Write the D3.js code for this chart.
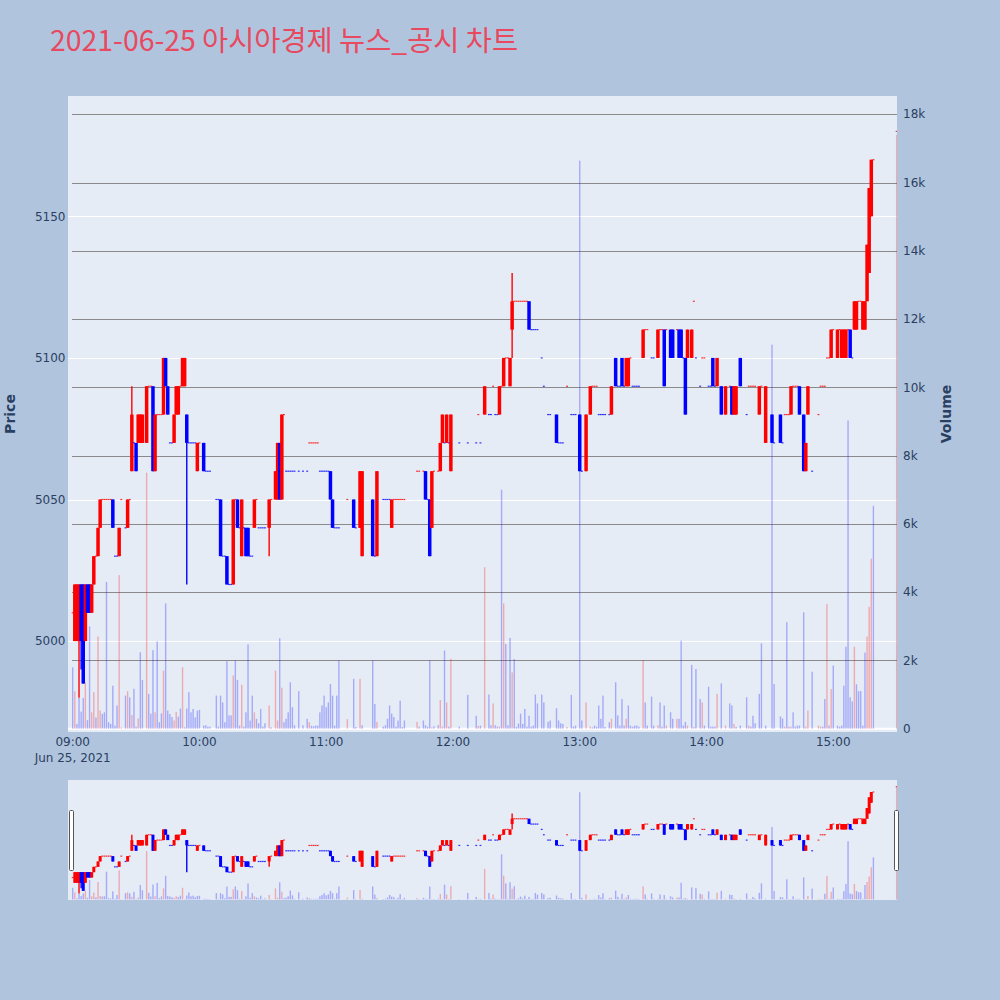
<!DOCTYPE html>
<html><head><meta charset="utf-8">
<script src="https://cdn.jsdelivr.net/npm/d3@7"></script>
<style>
html,body{margin:0;padding:0;background:#b0c4de;}
svg{display:block;}
</style></head><body>
<svg id="chart" width="1000" height="1000"></svg>
<script>
// ---- data (1-minute candles, 2021-06-25) ----
const times = [
"09:00","09:01","09:02","09:03","09:04","09:05","09:06","09:07","09:08","09:09",
"09:10","09:11","09:12","09:13","09:14","09:15","09:16","09:17","09:18","09:19",
"09:20","09:21","09:22","09:23","09:25","09:26","09:27","09:28","09:29","09:30",
"09:31","09:32","09:33","09:35","09:36","09:37","09:38","09:39","09:40","09:41",
"09:42","09:43","09:44","09:45","09:46","09:47","09:48","09:49","09:50","09:51",
"09:52","09:53","09:54","09:55","09:56","09:57","09:58","09:59","10:00","10:02",
"10:03","10:04","10:05","10:08","10:09","10:10","10:11","10:12","10:13","10:14",
"10:15","10:16","10:17","10:18","10:19","10:20","10:21","10:22","10:23","10:24",
"10:25","10:26","10:27","10:28","10:29","10:30","10:31","10:33","10:34","10:36",
"10:37","10:38","10:39","10:40","10:41","10:42","10:43","10:44","10:45","10:47",
"10:49","10:51","10:52","10:53","10:54","10:55","10:56","10:57","10:58","10:59",
"11:00","11:01","11:02","11:03","11:04","11:05","11:06","11:10","11:13","11:14",
"11:16","11:17","11:22","11:23","11:24","11:27","11:28","11:29","11:30","11:31",
"11:32","11:33","11:34","11:35","11:36","11:37","11:43","11:44","11:46","11:47",
"11:48","11:49","11:50","11:51","11:53","11:54","11:55","11:56","11:57","11:58",
"11:59","12:03","12:07","12:11","12:12","12:13","12:15","12:17","12:18","12:19",
"12:20","12:21","12:22","12:23","12:24","12:25","12:26","12:27","12:28","12:29",
"12:30","12:31","12:32","12:33","12:34","12:35","12:36","12:37","12:38","12:39",
"12:40","12:42","12:43","12:45","12:46","12:49","12:50","12:51","12:52","12:54",
"12:56","12:57","12:58","13:00","13:01","13:03","13:05","13:06","13:07","13:08",
"13:09","13:10","13:11","13:12","13:14","13:15","13:17","13:18","13:19","13:20",
"13:21","13:22","13:23","13:24","13:25","13:26","13:27","13:28","13:30","13:31",
"13:32","13:34","13:35","13:37","13:38","13:39","13:40","13:41","13:43","13:44",
"13:46","13:47","13:48","13:49","13:50","13:51","13:53","13:54","13:55","13:57",
"13:58","13:59","14:01","14:02","14:03","14:04","14:05","14:07","14:09","14:11",
"14:12","14:13","14:14","14:16","14:19","14:20","14:21","14:22","14:23","14:25",
"14:26","14:28","14:31","14:32","14:35","14:36","14:37","14:38","14:39","14:40",
"14:41","14:42","14:43","14:44","14:46","14:47","14:48","14:50","14:53","14:54",
"14:55","14:56","14:57","14:58","14:59","15:00","15:02","15:03","15:04","15:05",
"15:06","15:07","15:08","15:09","15:10","15:11","15:12","15:13","15:14","15:15",
"15:16","15:17","15:18","15:19","15:30"];

const opens = [
5010,5000,5000,5000,5020,5020,5000,5020,5020,5010,
5020,5030,5030,5040,5050,5050,5050,5050,5050,5050,
5030,5030,5030,5050,5040,5040,5050,5060,5070,5070,
5070,5070,5070,5070,5090,5090,5090,5060,5080,5080,
5080,5080,5100,5090,5070,5070,5070,5080,5080,5090,
5090,5090,5080,5070,5070,5070,5070,5060,5070,5070,
5060,5060,5060,5050,5050,5050,5030,5030,5030,5020,
5020,5020,5050,5050,5040,5030,5040,5040,5040,5030,
5030,5040,5050,5040,5040,5040,5040,5040,5050,5050,
5050,5070,5050,5080,5060,5060,5060,5060,5060,5060,
5060,5060,5070,5070,5070,5070,5070,5060,5060,5060,
5060,5060,5060,5050,5040,5040,5040,5050,5050,5040,
5040,5030,5050,5030,5030,5050,5050,5050,5050,5040,
5050,5050,5050,5050,5050,5050,5060,5060,5060,5060,
5050,5050,5040,5060,5060,5060,5070,5070,5070,5070,
5060,5070,5070,5070,5080,5070,5080,5080,5080,5090,
5080,5080,5080,5090,5090,5100,5100,5090,5110,5120,
5120,5120,5120,5120,5120,5120,5120,5110,5110,5110,
5110,5100,5090,5080,5080,5080,5070,5070,5070,5090,
5080,5080,5080,5080,5060,5060,5080,5090,5090,5090,
5080,5080,5080,5080,5080,5080,5100,5090,5090,5100,
5090,5090,5090,5100,5090,5090,5090,5090,5100,5110,
5110,5100,5100,5100,5110,5110,5110,5110,5110,5110,
5110,5110,5110,5100,5100,5100,5100,5120,5100,5090,
5100,5100,5090,5090,5100,5090,5090,5090,5080,5090,
5090,5080,5080,5100,5080,5090,5090,5090,5090,5080,
5090,5070,5080,5070,5080,5070,5080,5080,5080,5080,
5090,5090,5090,5090,5080,5060,5080,5060,5080,5090,
5090,5090,5100,5100,5100,5110,5100,5110,5100,5100,
5100,5110,5110,5100,5110,5110,5120,5120,5110,5110,
5120,5130,5150,5170,5180];

const highs = [
5010,5020,5020,5020,5020,5020,5020,5020,5020,5020,
5030,5030,5040,5050,5050,5050,5050,5050,5050,5050,
5030,5030,5040,5050,5040,5050,5050,5090,5070,5070,
5080,5080,5080,5090,5090,5090,5090,5080,5080,5080,
5080,5100,5100,5090,5070,5070,5080,5090,5090,5090,
5100,5100,5080,5070,5070,5070,5070,5070,5070,5070,
5060,5060,5060,5050,5050,5050,5030,5030,5030,5020,
5020,5050,5050,5050,5040,5050,5040,5040,5040,5030,
5030,5050,5050,5040,5040,5040,5040,5050,5050,5060,
5070,5070,5080,5080,5060,5060,5060,5060,5060,5060,
5060,5060,5070,5070,5070,5070,5070,5060,5060,5060,
5060,5060,5060,5050,5040,5040,5040,5050,5050,5040,
5060,5060,5050,5030,5060,5050,5050,5050,5050,5050,
5050,5050,5050,5050,5050,5050,5060,5060,5060,5060,
5050,5050,5060,5060,5060,5070,5080,5070,5080,5070,
5080,5070,5070,5070,5080,5070,5090,5080,5080,5090,
5080,5080,5090,5090,5100,5100,5100,5100,5130,5120,
5120,5120,5120,5120,5120,5120,5120,5110,5110,5110,
5110,5100,5090,5080,5080,5080,5070,5070,5070,5090,
5080,5080,5080,5080,5060,5080,5090,5090,5090,5090,
5080,5080,5080,5080,5080,5090,5100,5090,5090,5100,
5090,5100,5100,5100,5090,5090,5090,5090,5110,5110,
5110,5100,5100,5110,5110,5110,5110,5110,5110,5110,
5110,5110,5110,5100,5100,5110,5110,5120,5100,5090,
5100,5100,5090,5090,5100,5090,5100,5090,5090,5090,
5090,5090,5090,5100,5080,5090,5090,5090,5090,5090,
5090,5090,5080,5070,5080,5070,5080,5080,5080,5090,
5090,5090,5090,5090,5080,5070,5090,5060,5080,5090,
5090,5090,5100,5100,5110,5110,5110,5110,5110,5110,
5110,5110,5110,5100,5120,5120,5120,5120,5120,5120,
5140,5160,5170,5170,5180];

const lows = [
5010,5000,5000,4980,4990,4985,5000,5010,5010,5010,
5020,5030,5030,5040,5050,5050,5050,5050,5050,5040,
5030,5030,5030,5050,5040,5040,5050,5060,5070,5060,
5070,5070,5070,5070,5090,5090,5060,5060,5080,5080,
5080,5080,5090,5080,5070,5070,5070,5080,5080,5090,
5090,5090,5020,5070,5070,5070,5070,5060,5070,5060,
5060,5060,5060,5050,5050,5030,5030,5030,5020,5020,
5020,5020,5050,5040,5040,5030,5040,5030,5030,5030,
5030,5040,5050,5040,5040,5040,5040,5030,5050,5050,
5050,5050,5050,5080,5060,5060,5060,5060,5060,5060,
5060,5060,5070,5070,5070,5070,5070,5060,5060,5060,
5060,5060,5050,5040,5040,5040,5040,5050,5040,5040,
5040,5030,5030,5030,5030,5050,5050,5050,5050,5040,
5050,5050,5050,5050,5050,5050,5060,5060,5060,5050,
5050,5030,5040,5060,5060,5060,5070,5070,5070,5070,
5060,5070,5070,5070,5080,5070,5080,5080,5080,5090,
5080,5080,5080,5090,5090,5100,5100,5090,5100,5120,
5120,5120,5120,5120,5120,5120,5110,5110,5110,5110,
5110,5100,5090,5080,5080,5070,5070,5070,5070,5090,
5080,5080,5080,5060,5060,5060,5080,5090,5090,5090,
5080,5080,5080,5080,5080,5080,5090,5090,5090,5090,
5090,5090,5090,5100,5090,5090,5090,5090,5100,5110,
5110,5100,5100,5100,5110,5110,5090,5110,5100,5100,
5110,5100,5100,5100,5080,5100,5100,5120,5100,5090,
5100,5100,5090,5090,5090,5090,5090,5080,5080,5090,
5080,5080,5080,5090,5080,5090,5090,5090,5090,5080,
5090,5070,5070,5070,5070,5070,5080,5080,5080,5080,
5090,5090,5090,5080,5060,5060,5080,5060,5080,5090,
5090,5090,5100,5100,5100,5110,5100,5110,5100,5100,
5100,5110,5100,5100,5110,5110,5120,5120,5110,5110,
5120,5130,5150,5170,5180];

const closes = [
5010,5020,5020,5020,5000,4985,5020,5010,5010,5020,
5030,5030,5040,5050,5050,5050,5050,5050,5050,5040,
5030,5030,5040,5050,5040,5050,5050,5080,5070,5060,
5080,5080,5080,5090,5090,5090,5060,5080,5080,5080,
5080,5100,5090,5080,5070,5070,5080,5090,5090,5090,
5100,5100,5070,5070,5070,5070,5070,5070,5070,5060,
5060,5060,5060,5050,5050,5030,5030,5030,5020,5020,
5020,5050,5050,5040,5040,5050,5040,5030,5030,5030,
5030,5050,5050,5040,5040,5040,5040,5050,5050,5060,
5070,5050,5080,5080,5060,5060,5060,5060,5060,5060,
5060,5060,5070,5070,5070,5070,5070,5060,5060,5060,
5060,5060,5050,5040,5040,5040,5040,5050,5040,5040,
5060,5060,5030,5030,5060,5050,5050,5050,5050,5050,
5050,5050,5050,5050,5050,5050,5060,5060,5060,5050,
5050,5030,5060,5060,5060,5070,5080,5070,5080,5070,
5080,5070,5070,5070,5080,5070,5090,5080,5080,5090,
5080,5080,5090,5090,5100,5100,5100,5100,5120,5120,
5120,5120,5120,5120,5120,5120,5110,5110,5110,5110,
5110,5100,5090,5080,5080,5070,5070,5070,5070,5090,
5080,5080,5080,5060,5060,5080,5090,5090,5090,5090,
5080,5080,5080,5080,5080,5090,5090,5090,5090,5090,
5090,5100,5100,5100,5090,5090,5090,5090,5110,5110,
5110,5100,5100,5110,5110,5110,5090,5110,5100,5100,
5110,5100,5100,5100,5080,5110,5110,5120,5100,5090,
5100,5100,5090,5090,5090,5090,5100,5080,5090,5090,
5080,5090,5090,5090,5080,5090,5090,5090,5090,5090,
5090,5090,5070,5070,5070,5070,5080,5080,5080,5090,
5090,5090,5090,5080,5060,5070,5090,5060,5080,5090,
5090,5090,5100,5100,5110,5110,5110,5110,5110,5110,
5110,5110,5100,5100,5120,5120,5120,5120,5120,5120,
5140,5160,5170,5170,5180];

const volumes = [
1800,1100,140,900,500,900,1360,250,3000,480,
1070,330,2700,530,430,480,4300,190,140,1260,
90,680,4500,40,970,1100,920,400,1170,60,
300,2240,1430,7500,1020,440,2300,480,2560,190,
450,1700,3670,530,430,340,240,490,350,590,
1800,40,590,1070,480,580,330,530,550,90,
100,60,60,970,60,970,770,190,1980,390,
390,1560,2000,1430,90,1290,60,480,2470,240,
970,480,290,160,580,60,160,680,40,1700,
240,2650,1200,190,290,480,1360,630,100,1100,
100,290,190,90,70,90,90,480,680,970,
630,770,1310,970,90,970,2000,280,1460,50,
1460,100,2000,725,200,60,100,290,680,440,
340,60,240,820,50,240,200,60,240,100,
60,2000,40,70,100,840,60,2290,770,60,
2050,60,990,380,80,90,4730,1000,100,740,
100,60,60,7000,3670,2480,100,2660,1650,2040,
50,150,440,140,580,60,380,60,90,1000,
740,1000,770,200,240,600,240,160,140,50,
990,60,90,16640,240,770,60,40,90,60,
680,290,970,50,190,290,1360,390,90,870,
90,290,680,90,60,90,90,60,2010,770,
90,940,90,100,770,60,680,90,480,290,
290,290,2580,90,200,90,1870,50,1750,870,
770,90,1230,60,60,60,1020,1330,90,740,
680,140,50,90,920,90,60,380,160,1020,
2500,90,11250,1310,360,300,60,3120,60,60,
480,60,90,90,3410,60,530,1670,90,60,
60,870,3650,90,1160,1850,90,60,90,1260,
2400,9030,920,800,2400,1300,1100,1100,90,2230,
2700,3570,4980,6530,17400];

const priceTicks = [5000, 5050, 5100, 5150];
const volumeTicks = [0, 2000, 4000, 6000, 8000, 10000, 12000, 14000, 16000, 18000];
const volumeTickLabels = ["0","2k","4k","6k","8k","10k","12k","14k","16k","18k"];
const hourTicks = ["09:00","10:00","11:00","12:00","13:00","14:00","15:00"];
const titleText = "2021-06-25 아시아경제 뉴스_공시 차트";
const dateLabel = "Jun 25, 2021";

// ---- build records ----
const toDate = t => { const [h, m] = t.split(":").map(Number); return new Date(2021, 5, 25, h, m); };
const rows = times.map((t, i) => ({ t: toDate(t), o: opens[i], h: highs[i], l: lows[i], c: closes[i], v: volumes[i] }));
let prevDir = true, prevC = null;
rows.forEach(d => {
  let up;
  if (d.c > d.o) up = true; else if (d.c < d.o) up = false;
  else if (prevC === null) up = true;
  else if (d.c > prevC) up = true; else if (d.c < prevC) up = false; else up = prevDir;
  d.up = up;
  d.flat = d.o === d.c;
  d.vup = prevC !== null && d.c > prevC;
  prevDir = up; prevC = d.c;
});

const RED = "#ff0000", BLUE = "#0000ff";
const svg = d3.select("#chart");
const P = { l: 68, r: 897, t: 96, b: 732 };
const S = { t: 780, b: 900 };

const x = d3.scaleTime()
  .domain([new Date(2021, 5, 25, 8, 57, 47), new Date(2021, 5, 25, 15, 30, 10)])
  .range([P.l, P.r]);
const yP = d3.scaleLinear().domain([4967.9, 5192.5]).range([P.b, P.t]);
const yV = d3.scaleLinear().domain([-97, 18536]).range([P.b, P.t]);
const ySP = d3.scaleLinear().domain([4967.9, 5192.5]).range([S.b, S.t]);
const ySV = d3.scaleLinear().domain([-97, 18536]).range([S.b, S.t]);

svg.append("rect").attr("width", 1000).attr("height", 1000).attr("fill", "#b0c4de");
svg.append("rect").attr("x", P.l).attr("y", P.t).attr("width", P.r - P.l).attr("height", P.b - P.t).attr("fill", "#e5ecf6");
svg.append("rect").attr("x", P.l).attr("y", S.t).attr("width", P.r - P.l).attr("height", S.b - S.t).attr("fill", "#e5ecf6");

const defs = svg.append("defs");
defs.append("clipPath").attr("id", "clipMain").append("rect")
  .attr("x", P.l).attr("y", P.t).attr("width", P.r - P.l).attr("height", P.b - P.t);
defs.append("clipPath").attr("id", "clipSlider").append("rect")
  .attr("x", P.l).attr("y", S.t).attr("width", P.r - P.l).attr("height", S.b - S.t);

// grids
svg.append("g").selectAll("line").data(priceTicks).join("line")
  .attr("x1", P.l).attr("x2", P.r)
  .attr("y1", d => Math.round(yP(d)) + 0.5).attr("y2", d => Math.round(yP(d)) + 0.5)
  .attr("stroke", "#ffffff").attr("stroke-width", 1);
svg.append("g").selectAll("line").data(volumeTicks.filter(v => v > 0)).join("line")
  .attr("x1", 72).attr("x2", P.r)
  .attr("y1", d => Math.round(yV(d)) + 0.5).attr("y2", d => Math.round(yV(d)) + 0.5)
  .attr("stroke", "#8a8a8a").attr("stroke-width", 1.2);
svg.append("line").attr("x1", P.l).attr("x2", P.r)
  .attr("y1", yV(0)).attr("y2", yV(0)).attr("stroke", "#ffffff").attr("stroke-width", 2);

function drawCandles(g, ys, bodyW, flatW) {
  g.selectAll("line.wick").data(rows.filter(d => d.h > d.l)).join("line").attr("class", "wick")
    .attr("x1", d => x(d.t)).attr("x2", d => x(d.t))
    .attr("y1", d => ys(d.h)).attr("y2", d => ys(d.l))
    .attr("stroke", d => d.up ? RED : BLUE).attr("stroke-width", 1.4);
  g.selectAll("rect.body").data(rows).join("rect").attr("class", "body")
    .attr("x", d => x(d.t) - (d.flat ? flatW : bodyW) / 2)
    .attr("y", d => d.flat ? ys(d.c) - 0.6 : ys(Math.max(d.o, d.c)))
    .attr("width", d => d.flat ? flatW : bodyW)
    .attr("height", d => d.flat ? 1.2 : Math.max(1.2, ys(Math.min(d.o, d.c)) - ys(Math.max(d.o, d.c))))
    .attr("fill", d => d.up ? RED : BLUE)
    .attr("fill-opacity", d => d.flat ? 0.8 : 1);
}
function drawVolume(g, ys) {
  g.selectAll("rect.vol").data(rows).join("rect").attr("class", "vol")
    .attr("x", d => x(d.t) - 0.7).attr("width", 1.4)
    .attr("y", d => ys(d.v)).attr("height", d => Math.max(0, ys(0) - ys(d.v)))
    .attr("fill", d => d.vup ? RED : BLUE).attr("fill-opacity", 0.28);
}

const gMain = svg.append("g").attr("clip-path", "url(#clipMain)");
drawCandles(gMain.append("g"), yP, 3.5, 1.9);
drawVolume(gMain.append("g"), yV);

const gS = svg.append("g").attr("clip-path", "url(#clipSlider)");
drawCandles(gS.append("g"), ySP, 3.0, 1.8);
drawVolume(gS.append("g"), ySV);

// range slider grabbers
[P.l + 1.5, P.r - 2.5].forEach(gx => {
  svg.append("rect").attr("x", gx).attr("y", 810.5).attr("width", 4).attr("height", 60)
    .attr("rx", 1).attr("fill", "#ffffff").attr("stroke", "#555").attr("stroke-width", 1);
});

// axes text
const tickFont = "DejaVu Sans, Verdana, sans-serif";
const axisCol = "#2a3f5f";
svg.append("g").selectAll("text").data(priceTicks).join("text")
  .attr("x", 65.5).attr("y", d => yP(d)).attr("dy", "0.35em")
  .attr("text-anchor", "end").attr("font-family", tickFont).attr("font-size", 12).attr("fill", axisCol)
  .text(d => d3.format("d")(d));
svg.append("g").selectAll("text").data(volumeTicks).join("text")
  .attr("x", 903).attr("y", d => yV(d)).attr("dy", "0.35em")
  .attr("text-anchor", "start").attr("font-family", tickFont).attr("font-size", 12).attr("fill", axisCol)
  .text((d, i) => volumeTickLabels[i]);
svg.append("g").selectAll("text").data(hourTicks).join("text")
  .attr("x", d => x(toDate(d))).attr("y", 746)
  .attr("text-anchor", "middle").attr("font-family", tickFont).attr("font-size", 12).attr("fill", axisCol)
  .text(d => d);
svg.append("text").attr("x", x(toDate(hourTicks[0]))).attr("y", 762)
  .attr("text-anchor", "middle").attr("font-family", tickFont).attr("font-size", 12).attr("fill", axisCol)
  .text(dateLabel);

svg.append("text").attr("transform", `translate(15,${(P.t + P.b) / 2}) rotate(-90)`)
  .attr("text-anchor", "middle").attr("font-family", tickFont).attr("font-size", 14)
  .attr("font-weight", "bold").attr("fill", axisCol).text("Price");
svg.append("text").attr("transform", `translate(951,${(P.t + P.b) / 2}) rotate(-90)`)
  .attr("text-anchor", "middle").attr("font-family", tickFont).attr("font-size", 14)
  .attr("font-weight", "bold").attr("fill", axisCol).text("Volume");

svg.append("text").attr("x", 50).attr("y", 51)
  .attr("font-family", "Noto Sans CJK KR, sans-serif").attr("font-size", 28.4)
  .attr("fill", "#e8495f").text(titleText);
</script>
</body></html>
